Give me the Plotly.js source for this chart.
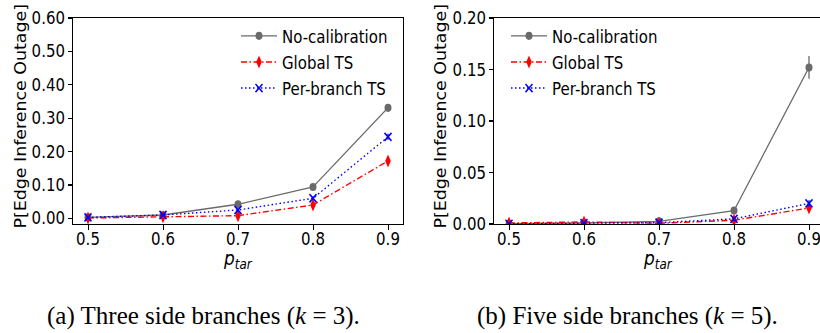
<!DOCTYPE html>
<html>
<head>
<meta charset="utf-8">
<script src="https://cdn.plot.ly/plotly-3.0.1.min.js"></script>
<style>
html,body{margin:0;padding:0;background:#fff;overflow:hidden;width:820px;height:333px;position:relative;}
#chart{position:absolute;left:0;top:0;width:830px;height:287px;transform:scaleY(1.1603);transform-origin:0 0;}
#caption{position:absolute;left:0;top:0;width:820px;height:333px;pointer-events:none;}
</style>
</head>
<body>
<div id="chart"></div>
<div id="caption"></div>
<script>
// ---- data ----
const pTar = [0.5, 0.6, 0.7, 0.8, 0.9];
const xTickVals = [0.5, 0.6, 0.7, 0.8, 0.9];
const seriesNames = ["No-calibration", "Global TS", "Per-branch TS"];

// (a) k = 3
const k3NoCal    = [0.003, 0.010, 0.042, 0.094, 0.331];
const k3NoCalErr = [0.002, 0.002, 0.004, 0.005, 0.006];
const k3Global    = [0.001, 0.005, 0.008, 0.040, 0.172];
const k3GlobalErr = [0.002, 0.003, 0.005, 0.007, 0.010];
const k3PerBr     = [0.003, 0.010, 0.025, 0.060, 0.244];
const k3PerBrErr  = [0.002, 0.003, 0.004, 0.006, 0.009];

// (b) k = 5
const k5NoCal    = [0.0003, 0.0010, 0.0026, 0.0130, 0.152];
const k5NoCalErr = [0.0005, 0.0008, 0.0010, 0.0020, 0.011];
const k5Global    = [0.0010, 0.0020, 0.0007, 0.0036, 0.0156];
const k5GlobalErr = [0.0008, 0.0010, 0.0008, 0.0015, 0.0030];
const k5PerBr     = [0.0002, 0.0008, 0.0013, 0.0050, 0.0200];
const k5PerBrErr  = [0.0005, 0.0006, 0.0008, 0.0015, 0.0030];

const yTicksA = [0, 0.1, 0.2, 0.3, 0.4, 0.5, 0.6];
const yTicksB = [0, 0.05, 0.10, 0.15, 0.20];

const captionA = "(a) Three side branches (<i>k</i> = 3).";
const captionB = "(b) Five side branches (<i>k</i> = 5).";
const yTitle = "P[Edge Inference Outage]";
const xTitle = "<i>p</i><sub><i>tar</i></sub>";

// ---- styles ----
const GRAY = "#6a6a6a", RED = "#ff0000", BLUE = "#0000ff";
const styles = [
  {color: GRAY, dash: "solid", symbol: "circle", size: 7},
  {color: RED, dash: "6px,2.5px,1.5px,2.5px", symbol: "diamond-tall", size: 8},
  {color: BLUE, dash: "1.5px,2.5px", symbol: "x-thin-open", size: 7}
];

function mk(y, err, i, xa, ya, leg) {
  const s = styles[i];
  const isX = s.symbol.startsWith("x");
  return {
    x: pTar, y: y, type: "scatter", mode: "lines+markers",
    name: seriesNames[i], xaxis: xa, yaxis: ya, legend: leg,
    line: {color: s.color, width: 1.2, dash: s.dash},
    marker: {color: s.color, symbol: s.symbol, size: s.size,
             line: {color: s.color, width: isX ? 1.5 : 0}},
    error_y: {type: "data", array: err, visible: true, color: s.color, thickness: 1.3, width: 0}
  };
}

const data = [
  mk(k3NoCal, k3NoCalErr, 0, "x", "y", "legend"),
  mk(k3Global, k3GlobalErr, 1, "x", "y", "legend"),
  mk(k3PerBr, k3PerBrErr, 2, "x", "y", "legend"),
  mk(k5NoCal, k5NoCalErr, 0, "x2", "y2", "legend2"),
  mk(k5Global, k5GlobalErr, 1, "x2", "y2", "legend2"),
  mk(k5PerBr, k5PerBrErr, 2, "x2", "y2", "legend2")
];

// plot is drawn at height Hp, then stretched vertically to 333 px (as in the reference figure)
const W = 830, Hp = 287, S = 333 / 287;
const font = {family: "DejaVu Sans", size: 15, color: "#000"};
const axBase = {
  showline: true, mirror: true, linecolor: "#000", linewidth: 1,
  ticks: "outside", ticklen: 4, tickwidth: 1, tickcolor: "#000",
  showgrid: false, zeroline: false, tickfont: font
};
const py = v => (Hp - v / S) / Hp;  // reference pixel row -> paper y
const yDom = [py(224), py(18)];

const layout = {
  width: W, height: Hp,
  margin: {l: 0, r: 0, t: 0, b: 0},
  paper_bgcolor: "rgba(0,0,0,0)", plot_bgcolor: "#fff",
  font: font,
  xaxis: Object.assign({}, axBase, {domain: [73 / W, 403 / W], range: [0.48, 0.92],
    tickvals: xTickVals, tickformat: ".1f", anchor: "y", ticklabelstandoff: -5}),
  yaxis: Object.assign({}, axBase, {domain: yDom, range: [-0.017, 0.6],
    tickvals: yTicksA, tickformat: ".2f", anchor: "x"}),
  xaxis2: Object.assign({}, axBase, {domain: [494 / W, 824 / W], range: [0.48, 0.92],
    tickvals: xTickVals, tickformat: ".1f", anchor: "y2", ticklabelstandoff: -5}),
  yaxis2: Object.assign({}, axBase, {domain: yDom, range: [0, 0.2],
    tickvals: yTicksB, tickformat: ".2f", anchor: "x2"}),
  legend: {x: 236 / W, xref: "paper", y: py(17), yref: "paper", xanchor: "left", yanchor: "top",
    bgcolor: "rgba(255,255,255,0)", font: font, itemwidth: 36, tracegroupgap: 0},
  legend2: {x: 506 / W, xref: "paper", y: py(17), yref: "paper", xanchor: "left", yanchor: "top",
    bgcolor: "rgba(255,255,255,0)", font: font, itemwidth: 36, tracegroupgap: 0},
  showlegend: true,
  annotations: [
    {text: yTitle, xref: "paper", yref: "paper", x: 21 / W, y: py(116),
     textangle: -90, showarrow: false, xanchor: "center", yanchor: "middle", font: font},
    {text: yTitle, xref: "paper", yref: "paper", x: 441 / W, y: py(116),
     textangle: -90, showarrow: false, xanchor: "center", yanchor: "middle", font: font},
    {text: xTitle, xref: "x domain", yref: "paper", x: 0.5, y: py(259),
     showarrow: false, xanchor: "center", yanchor: "middle", font: {family: "DejaVu Sans", size: 17, color: "#000"}},
    {text: xTitle, xref: "x2 domain", yref: "paper", x: (658 - 494) / 330, y: py(259),
     showarrow: false, xanchor: "center", yanchor: "middle", font: {family: "DejaVu Sans", size: 17, color: "#000"}}
  ]
};

Plotly.newPlot("chart", data, layout, {displayModeBar: false, staticPlot: true});

// captions (not stretched)
const capLayout = {
  width: 820, height: 333, margin: {l: 0, r: 0, t: 0, b: 0},
  paper_bgcolor: "rgba(0,0,0,0)", plot_bgcolor: "rgba(0,0,0,0)",
  xaxis: {visible: false}, yaxis: {visible: false}, showlegend: false,
  annotations: [
    {text: captionA, xref: "paper", yref: "paper", x: 203 / 820, y: (333 - 316) / 333,
     showarrow: false, xanchor: "center", yanchor: "middle", font: {family: "Liberation Serif", size: 25, color: "#000"}},
    {text: captionB, xref: "paper", yref: "paper", x: 627 / 820, y: (333 - 316) / 333,
     showarrow: false, xanchor: "center", yanchor: "middle", font: {family: "Liberation Serif", size: 25, color: "#000"}}
  ]
};
Plotly.newPlot("caption", [], capLayout, {displayModeBar: false, staticPlot: true});
</script>
</body>
</html>
